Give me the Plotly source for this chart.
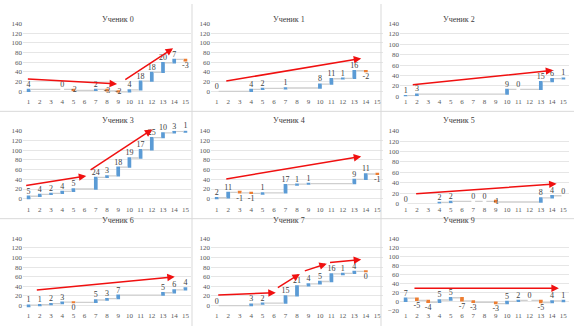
import plotly.graph_objects as go

W, H = 574, 330
BLUE = "#5B9BD5"
ORANGE = "#ED7D31"
FONT = "Liberation Serif, Times New Roman, serif"

titles = ["Ученик 0", "Ученик 1", "Ученик 2",
          "Ученик 3", "Ученик 4", "Ученик 5",
          "Ученик 6", "Ученик 7", "Ученик 9"]

x0 = [1, 4, 5, 7, 8, 9, 10, 11, 12, 13, 14, 15]
v0 = [4, 0, -2, 2, -3, -2, 4, 18, 18, 20, 7, -3]
x1 = [1, 4, 5, 7, 10, 11, 12, 13, 14]
v1 = [0, 4, 2, 1, 8, 11, 1, 16, -2]
x2 = [1, 2, 10, 11, 13, 14, 15]
v2 = [1, 3, 9, 0, 15, 6, 1]
x3 = [1, 2, 3, 4, 5, 7, 8, 9, 10, 11, 12, 13, 14, 15]
v3 = [5, 4, 2, 4, 5, 24, 3, 18, 19, 17, 25, 10, 3, 1]
x4 = [1, 2, 3, 4, 5, 7, 8, 9, 13, 14, 15]
v4 = [2, 11, -1, -1, 1, 17, 1, 1, 9, 11, -1]
x5 = [1, 4, 5, 7, 8, 9, 13, 14, 15]
v5 = [0, 2, 2, 0, 0, -1, 8, 4, 0]
x6 = [1, 2, 3, 4, 5, 7, 8, 9, 13, 14, 15]
v6 = [1, 1, 2, 3, -0.4, 5, 3, 7, 5, 6, 4]
x7 = [1, 4, 5, 7, 8, 9, 10, 11, 12, 13, 14]
v7 = [0, 3, 2, 15, 21, 4, 5, 16, 1, 4, -0.4]
x9 = [1, 2, 3, 4, 5, 6, 7, 9, 10, 11, 12, 13, 14, 15]
v9 = [7, -5, -4, 5, 5, -7, -3, -3, 5, 2, 0, -5, 4, 1]

xs = [x0, x1, x2, x3, x4, x5, x6, x7, x9]
vs = [v0, v1, v2, v3, v4, v5, v6, v7, v9]

y_ranges = [[-10, 140], [-10, 140], [0, 140],
            [-10, 140], [-10, 140], [0, 140],
            [-10, 140], [-10, 140], [-20, 140]]

# trend arrows: (x_start, y_start, x_end, y_end) in data units
arrows = [
    [(0.8, 25.5, 8.9, 15.4), (9.5, 22, 13.9, 89)],
    [(1.7, 20.8, 13.6, 68)],
    [(1.5, 21.8, 14.1, 49.8)],
    [(0.65, 26.8, 6.15, 46.9), (6.4, 57.6, 12.05, 143)],
    [(1.7, 40.2, 13.6, 87)],
    [(1.8, 18.7, 14.4, 37.9)],
    [(1.6, 32, 14.05, 60)],
    [(1.0, 22, 6.15, 26.8), (6.2, 35.5, 8.25, 65.8),
     (8.55, 71, 10.6, 87), (10.75, 89, 13.6, 95.8)],
    [(1.65, 29, 14.6, 29)],
]

col_px = [(23, 191), (211, 383), (400, 569)]
row_px = [(20, 94.5), (130, 204.5), (240, 314)]
title_px = [(100, 9), (289, 9), (477, 9)]
row_off = [0, 110, 220]

fig = go.Figure()
for i in range(9):
    r, c = divmod(i, 3)
    n = "" if i == 0 else str(i + 1)
    xa, ya = "x" + n, "y" + n
    lo, hi = y_ranges[i]
    labels = [str(int(round(v))) for v in vs[i]]
    # decreasing steps ending near the axis floor keep their label on the bar
    positions, total = [], 0
    for v in vs[i]:
        total += v
        positions.append("inside" if (v < 0 and total < 5 and lo > -20) else "outside")
    fig.add_trace(go.Waterfall(
        x=xs[i], y=vs[i], measure=["relative"] * len(vs[i]),
        text=labels, textposition=positions, cliponaxis=False,
        constraintext="none", textangle=0, insidetextanchor="middle",
        outsidetextfont=dict(family=FONT, size=8, color="#404040"),
        insidetextfont=dict(family=FONT, size=8, color="#404040"),
        textfont=dict(family=FONT, size=8, color="#404040"),
        increasing=dict(marker=dict(color=BLUE)),
        decreasing=dict(marker=dict(color=ORANGE)),
        connector=dict(line=dict(color="#CFCFCF", width=1.3)),
        width=0.33, xaxis=xa, yaxis=ya, showlegend=False,
        hoverinfo="skip",
    ))
    fig.update_layout(**{
        ("xaxis" + n): dict(
            domain=[col_px[c][0] / W, col_px[c][1] / W],
            range=[0.5, 15.5], tickvals=list(range(1, 16)),
            showgrid=False, zeroline=False, showline=False, ticks="",
            tickfont=dict(family=FONT, size=7, color="#595959"),
            anchor=ya, fixedrange=True),
        ("yaxis" + n): dict(
            domain=[1 - row_px[r][1] / H, 1 - row_px[r][0] / H],
            range=[lo, hi], tickvals=list(range(lo if lo == -20 else 0, 141, 20)),
            showgrid=True, gridcolor="#E6E6E6", gridwidth=1,
            zeroline=False, showline=False, ticks="",
            tickfont=dict(family=FONT, size=7, color="#595959"),
            anchor=xa, fixedrange=True),
    })
    tx, ty = title_px[c]
    fig.add_annotation(x=tx / W, y=1 - (ty + row_off[r]) / H, xref="paper", yref="paper",
                       text=titles[i], showarrow=False,
                       font=dict(family=FONT, size=8, color="#404040"))
    for (xs0, ys0, xe, ye) in arrows[i]:
        fig.add_annotation(x=xe, y=ye, ax=xs0, ay=ys0, xref=xa, yref=ya,
                           axref=xa, ayref=ya, text="", showarrow=True,
                           arrowhead=2, arrowsize=1, arrowwidth=1.5,
                           arrowcolor="#F01010")

# panel separators
for xp in [192, 381]:
    fig.add_shape(type="line", xref="paper", yref="paper", x0=xp / W, x1=xp / W,
                  y0=0, y1=1, line=dict(color="#D9D9D9", width=1))
for yp in [110, 220]:
    fig.add_shape(type="line", xref="paper", yref="paper", x0=0, x1=1,
                  y0=1 - yp / H, y1=1 - yp / H, line=dict(color="#D9D9D9", width=1))

fig.update_layout(width=W, height=H, margin=dict(l=0, r=0, t=0, b=0),
                  paper_bgcolor="white", plot_bgcolor="white")
fig.write_html("out.html")
